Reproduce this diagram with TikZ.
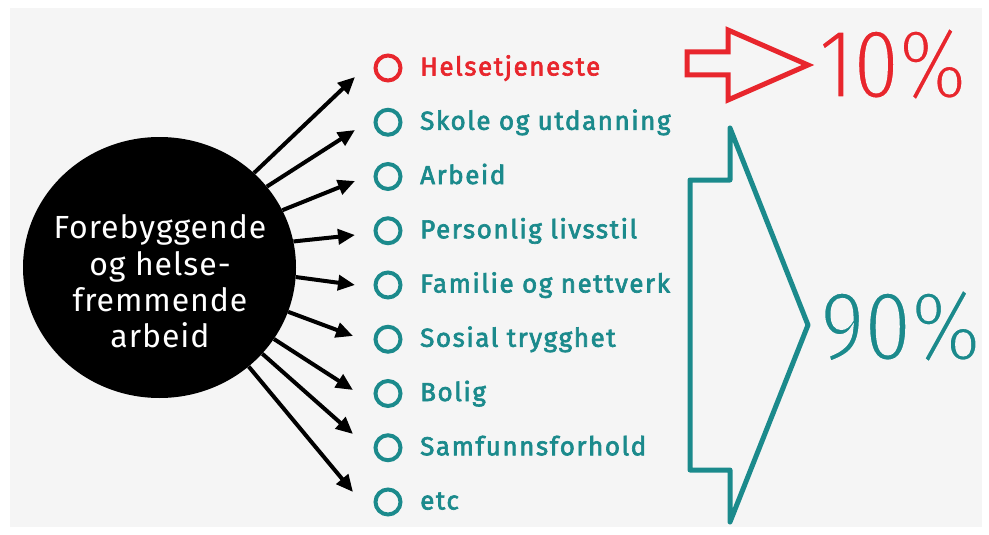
\documentclass[tikz,border=0pt]{standalone}
\usepackage{fontspec}
\usepackage{graphicx}
\setmainfont{Fira Sans}
\newfontfamily\itemfont{Fira Sans}[LetterSpace=6,FakeBold=2.5]
\newfontfamily\circfont{Fira Sans}[LetterSpace=3]
\newfontfamily\bigfont{Fira Sans}
\usetikzlibrary{shapes.geometric,arrows.meta}
\definecolor{teal2}{HTML}{1B8A8C}
\definecolor{red2}{HTML}{E8262D}
\definecolor{bg}{HTML}{F5F5F5}
\newcommand\thinglyphs[2]{\special{pdf:literal direct #1 w 0.961 0.961 0.961 RG 2 Tr}#2\special{pdf:literal direct 0 Tr}}
\begin{document}
\begin{tikzpicture}[x=1pt,y=-1pt,
  arr/.style={line width=4pt,-{Triangle[length=17pt,width=15pt]}},
  bullet/.style={circle,draw,line width=4pt,minimum size=25pt,inner sep=0pt},
  item/.style={anchor=base west,inner sep=0pt,font=\itemfont\fontsize{26}{30}\selectfont},
  bignum/.style={anchor=base west,inner sep=0pt,font=\bigfont\fontsize{100}{110}\selectfont},
  outline/.style={line width=5pt}
  ]
\useasboundingbox (0,0) rectangle (989,535);
\fill[bg] (10,8) rectangle (982,527);

% central circle
\node[ellipse,fill=black,minimum width=273pt,minimum height=261pt,inner sep=0pt] (c) at (159.5,267.5) {};
\node[font=\circfont\fontsize{32}{36.3}\selectfont,text=white,align=center,inner sep=0pt] (ct) at (160,281.5)
  {Forebyggende\\og helse-\\fremmende\\arbeid};

% bullets and items
\node[bullet,draw=red2] (b1) at (388,68) {};
\node[item,text=red2] (i1) at (420,75.5) {Helsetjeneste};
\node[bullet,draw=teal2] (b2) at (388,122.25) {};
\node[item,text=teal2] (i2) at (420,129.75) {Skole og utdanning};
\node[bullet,draw=teal2] (b3) at (388,176.5) {};
\node[item,text=teal2] (i3) at (420,184) {Arbeid};
\node[bullet,draw=teal2] (b4) at (388,230.75) {};
\node[item,text=teal2] (i4) at (420,238.25) {Personlig livsstil};
\node[bullet,draw=teal2] (b5) at (388,285) {};
\node[item,text=teal2] (i5) at (420,292.5) {Familie og nettverk};
\node[bullet,draw=teal2] (b6) at (388,339.25) {};
\node[item,text=teal2] (i6) at (420,346.75) {Sosial trygghet};
\node[bullet,draw=teal2] (b7) at (388,393.5) {};
\node[item,text=teal2] (i7) at (420,401) {Bolig};
\node[bullet,draw=teal2] (b8) at (388,447.75) {};
\node[item,text=teal2] (i8) at (420,455.25) {Samfunnsforhold};
\node[bullet,draw=teal2] (b9) at (388,502) {};
\node[item,text=teal2] (i9) at (420,509.5) {etc};

% arrow tips
\coordinate (t1) at (355,77);
\coordinate (t2) at (355,130);
\coordinate (t3) at (355,181);
\coordinate (t4) at (355,235);
\coordinate (t5) at (355,285);
\coordinate (t6) at (353,336);
\coordinate (t7) at (353,390);
\coordinate (t8) at (353,434);
\coordinate (t9) at (353,492);

\draw[arr] (c.45) -- (t1);
\draw[arr] (c.37.5) -- (t2);
\draw[arr] (c.25) -- (t3);
\draw[arr] (c.11) -- (t4);
\draw[arr] (c.-4.5) -- (t5);
\draw[arr] (c.-19.5) -- (t6);
\draw[arr] (c.-32) -- (t7);
\draw[arr] (c.-40.3) -- (t8);
\draw[arr] (c.-48) -- (t9);

% red block arrow and 10%
\draw[red2,outline,line join=miter] (687,52) -- (728,52) -- (728,30) -- (808,65) -- (728,100) -- (728,75) -- (687,75) -- cycle;
\node[bignum,text=red2] (p10) at (818,98) {\scalebox{0.815}[1]{\thinglyphs{3}{10\%}}};

% teal bracket arrow and 90%
\draw[teal2,outline,line join=round] (730,128) -- (730,180) -- (690,180) -- (690,470) -- (730,470) -- (730,522) -- (808,325) -- cycle;
\node[bignum,text=teal2] (p90) at (820,360) {\scalebox{0.84}[1]{\thinglyphs{3}{90\%}}};
\end{tikzpicture}
\end{document}
